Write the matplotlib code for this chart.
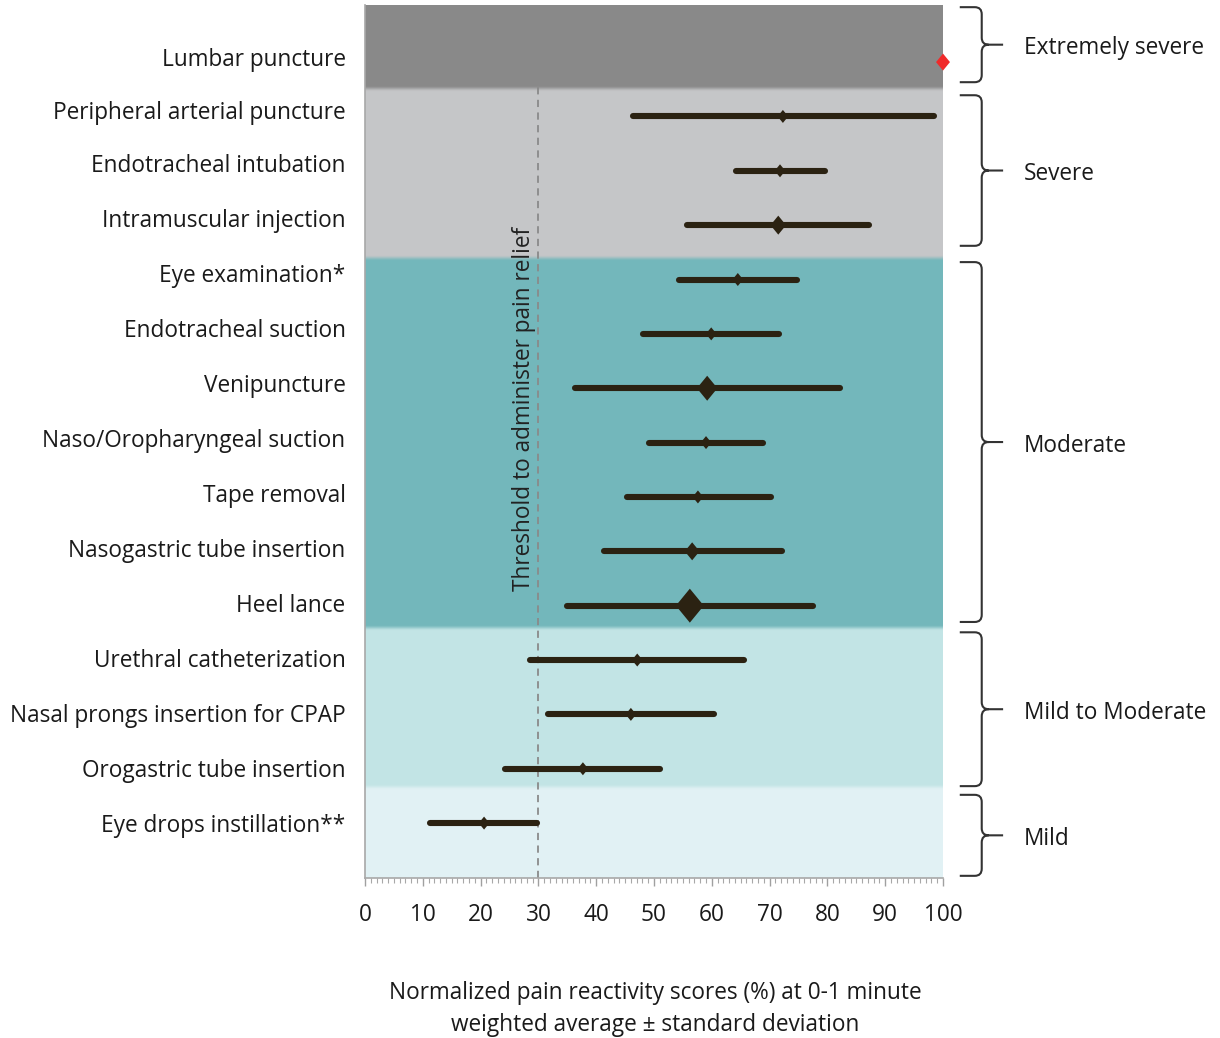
import numpy as np
import matplotlib
matplotlib.use("Agg")
import matplotlib.pyplot as plt
from matplotlib.path import Path
from matplotlib.patches import PathPatch
import matplotlib.transforms as mtransforms
from matplotlib.colors import to_rgb

plt.rcParams['font.family'] = ['Open Sans', 'DejaVu Sans']

# ---------------- data ----------------
procedures = ["Lumbar puncture", "Peripheral arterial puncture", "Endotracheal intubation",
              "Intramuscular injection", "Eye examination*", "Endotracheal suction",
              "Venipuncture", "Naso/Oropharyngeal suction", "Tape removal",
              "Nasogastric tube insertion", "Heel lance", "Urethral catheterization",
              "Nasal prongs insertion for CPAP", "Orogastric tube insertion",
              "Eye drops instillation**"]
means = [100.0, 72.3, 71.8, 71.5, 64.5, 59.9, 59.2, 59.0, 57.6, 56.6, 56.2, 47.1, 46.0, 37.7, 20.6]
lower = [np.nan, 46.4, 64.2, 55.7, 54.3, 48.1, 36.3, 49.1, 45.3, 41.3, 34.9, 28.5, 31.7, 24.2, 11.2]
upper = [np.nan, 98.4, 79.6, 87.2, 74.7, 71.6, 82.2, 68.9, 70.2, 72.1, 77.5, 65.6, 60.4, 51.0, 29.8]
weight = [17, 13, 13, 19, 13, 13, 25, 13, 13, 18, 34, 13, 13, 13, 13]   # relative marker size

groups = ["Extremely severe", "Severe", "Moderate", "Mild to Moderate", "Mild"]
group_edges = [-1.05, 0.48, 3.6, 10.41, 13.34, 15.01]   # band boundaries (row units)
band_colors = ["#898989", "#c5c6c8", "#73b7bb", "#c2e4e5", "#e1f1f4"]
brace_top = [-1.01, 0.61, 3.68, 10.49, 13.48]
brace_bot = [0.37, 3.38, 10.30, 13.32, 14.97]
threshold = 30
xticks = list(range(0, 101, 10))

FS = 16.3
# ---------------- figure ----------------
W, H = 1220, 1038
fig = plt.figure(figsize=(W / 100, H / 100), dpi=100)
ax = fig.add_axes([365 / W, 160 / H, 578 / W, 873 / H])
ylo, yhi = group_edges[0], group_edges[-1]

# background bands with soft edges
npx = 873
ys = np.linspace(ylo, yhi, npx)
img = np.zeros((npx, 4, 3))
cols = [np.array(to_rgb(c)) for c in band_colors]
blur = 0.11
for k, yy in enumerate(ys):
    c = cols[0].copy()
    for j in range(1, len(cols)):
        e = group_edges[j]
        t = np.clip((yy - e) / blur + 0.5, 0, 1)
        t = t * t * (3 - 2 * t)
        c = c * (1 - t) + cols[j] * t
    img[k, :] = c
ax.imshow(img, extent=[0, 100, yhi, ylo], aspect='auto', interpolation='nearest', zorder=0)
ax.set_xlim(0, 100)
ax.set_ylim(yhi, ylo)

# threshold line
ax.axvline(threshold, color="#8a8a8a", lw=1.3, ls=(0, (4, 3)), zorder=1)
ax.text(threshold - 2.5, 6.38, "Threshold to administer pain relief", rotation=90,
        ha='center', va='center', fontsize=FS, color="#222222", zorder=2)

rows = np.arange(len(procedures))
lo = np.array(lower); hi = np.array(upper); mu = np.array(means)
ok = ~np.isnan(lo)
ax.hlines(rows[ok], lo[ok], hi[ok], colors="#2b2212", lw=4.4, capstyle='round', zorder=3)

diamond = [(0, 1), (0.82, 0), (0, -1), (-0.82, 0), (0, 1)]
sizes = (np.array(weight) * 0.72) ** 2
mcolors = ["#f02a2a"] + ["#2b2212"] * (len(procedures) - 1)
ax.scatter(mu, rows, s=sizes, marker=diamond, c=mcolors, linewidths=0, zorder=4, clip_on=False)

# axes styling
label_px = [57, 110, 163, 218, 273, 328, 383, 438, 493, 548, 603, 658, 713, 768, 823]
ax.set_yticks([(p - 62) / 54.36 for p in label_px])
ax.set_yticklabels(procedures, fontsize=FS, color="#1a1a1a")
ax.tick_params(axis='y', length=0, pad=14)
ax.set_xticks(xticks)
ax.set_xticks(np.arange(0, 101, 1), minor=True)
ax.set_xticklabels([str(t) for t in xticks], fontsize=FS, color="#1a1a1a")
ax.tick_params(axis='x', which='major', length=6, width=1, color="#a0a0a0", pad=12)
ax.tick_params(axis='x', which='minor', length=3.5, width=0.8, color="#a8a8a8")
for s in ["top", "right"]:
    ax.spines[s].set_visible(False)
ax.spines["left"].set_color("#a8a8a8")
ax.spines["bottom"].set_color("#a8a8a8")
ax.spines["left"].set_linewidth(1.2)
ax.spines["bottom"].set_linewidth(1.2)

fig.text(655 / W, 1 - 1009 / H,
         "Normalized pain reactivity scores (%) at 0-1 minute\nweighted average \u00b1 standard deviation",
         ha='center', va='center', fontsize=FS, color="#1a1a1a", linespacing=1.45)

# braces
trans = mtransforms.blended_transform_factory(ax.transAxes, ax.transData)
x0, x1, x2 = 1.029, 1.067, 1.104
rx, ry = 0.012, 0.13
for g, name in enumerate(groups):
    top = brace_top[g]
    bot = brace_bot[g]
    mid = (top + bot) / 2
    verts = [(x0, top), (x1 - rx, top), (x1, top), (x1, top + ry), (x1, mid - ry), (x1, mid), (x1 + rx, mid), (x2, mid),
             (x1 + rx, mid), (x1, mid), (x1, mid + ry), (x1, bot - ry), (x1, bot), (x1 - rx, bot), (x0, bot)]
    codes = [Path.MOVETO, Path.LINETO, Path.CURVE3, Path.CURVE3, Path.LINETO, Path.CURVE3, Path.CURVE3, Path.LINETO,
             Path.MOVETO, Path.CURVE3, Path.CURVE3, Path.LINETO, Path.CURVE3, Path.CURVE3, Path.LINETO]
    ax.add_patch(PathPatch(Path(verts, codes), transform=trans, fill=False, edgecolor="#333333",
                           lw=1.5, clip_on=False))
    ax.text(1.140, mid + 0.07, name, transform=trans, ha='left', va='center', fontsize=FS, color="#1a1a1a")

fig.savefig("out.png", dpi=100)
